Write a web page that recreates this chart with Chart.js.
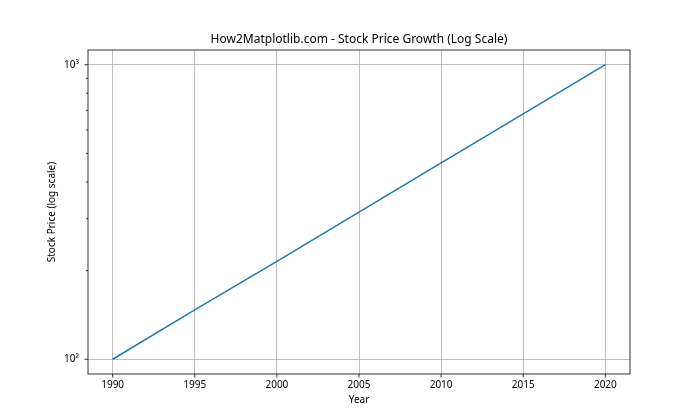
<!DOCTYPE html>
<html>
<head>
<meta charset="utf-8">
<script src="https://cdn.jsdelivr.net/npm/chart.js@4"></script>
<style>
  body { margin: 0; background: #fff; }
  #wrap { width: 700px; height: 420px; }
</style>
</head>
<body>
<div id="wrap"><canvas id="stockChart" width="700" height="420"></canvas></div>
<script>
"use strict";

// Data
const years = [1990, 1995, 2000, 2005, 2010, 2015, 2020];
const prices = [100, 147, 215, 316, 464, 681, 1000];

// Tick labels
const xTicks = [1990, 1995, 2000, 2005, 2010, 2015, 2020];
const yMajorTicks = [100, 1000];
const yMajorLabels = ['10²', '10³'];
const yMinorTicks = [200, 300, 400, 500, 600, 700, 800, 900];

const chartTitle = 'How2Matplotlib.com - Stock Price Growth (Log Scale)';
const fontFamily = '"Noto Sans", "DejaVu Sans", sans-serif';

// Plugin for the frame, tick marks and the title centred over the plot area (like matplotlib)
const framePlugin = {
    id: 'frame',
    afterDraw(chart) {
        const { ctx, chartArea: a, scales: { x, y } } = chart;
        ctx.save();
        ctx.strokeStyle = '#000';
        ctx.lineWidth = 0.8;
        ctx.strokeRect(a.left, a.top, a.right - a.left, a.bottom - a.top);
        ctx.beginPath();
        xTicks.forEach(v => {
            const px = x.getPixelForValue(v);
            ctx.moveTo(px, a.bottom);
            ctx.lineTo(px, a.bottom + 3.5);
        });
        yMajorTicks.concat(yMinorTicks).forEach(v => {
            const py = y.getPixelForValue(v);
            const len = yMajorTicks.includes(v) ? 3.5 : 2;
            ctx.moveTo(a.left, py);
            ctx.lineTo(a.left - len, py);
        });
        ctx.stroke();

        // titel
        ctx.fillStyle = '#000';
        ctx.font = '12px ' + fontFamily;
        ctx.textAlign = 'center';
        ctx.textBaseline = 'middle';
        ctx.fillText(chartTitle, (a.left + a.right) / 2, a.top - 10);
        ctx.restore();
    }
};

new Chart(document.getElementById('stockChart'), {
    type: 'line',
    data: {
        datasets: [{
            data: years.map((yr, i) => ({ x: yr, y: prices[i] })),
            borderColor: '#1f77b4',
            borderWidth: 1.5,
            pointRadius: 0,
            fill: false,
            tension: 0
        }]
    },
    options: {
        responsive: false,
        animation: false,
        layout: { padding: { top: 50, right: 70, bottom: 0, left: 0 } },
        plugins: {
            legend: { display: false },
            tooltip: { enabled: false },
            title: { display: false }
        },
        scales: {
            x: {
                type: 'linear',
                min: 1988.5,
                max: 2021.5,
                afterBuildTicks: scale => {
                    scale.ticks = xTicks.map(v => ({ value: v }));
                },
                afterFit: scale => { scale.height = 46; },
                ticks: {
                    autoSkip: false,
                    maxRotation: 0,
                    padding: 5,
                    color: '#000',
                    font: { family: fontFamily, size: 10 },
                    callback: value => String(value)
                },
                grid: { color: '#b0b0b0', lineWidth: 0.8, drawTicks: false },
                border: { display: false },
                title: {
                    display: true,
                    text: 'Year',
                    color: '#000',
                    font: { family: fontFamily, size: 10 },
                    padding: 14
                }
            },
            y: {
                type: 'logarithmic',
                min: 89.1,
                max: 1122,
                afterBuildTicks: scale => {
                    scale.ticks = yMajorTicks.concat(yMinorTicks)
                        .sort((a, b) => a - b)
                        .map(v => ({ value: v }));
                },
                afterFit: scale => { scale.width = 88; },
                ticks: {
                    autoSkip: false,
                    padding: 9,
                    color: '#000',
                    font: { family: fontFamily, size: 10 },
                    callback: value => {
                        const i = yMajorTicks.indexOf(value);
                        return i >= 0 ? yMajorLabels[i] : '';
                    }
                },
                grid: {
                    color: ctx => (ctx.tick && yMajorTicks.includes(ctx.tick.value)) ? '#b0b0b0' : 'rgba(0,0,0,0)',
                    lineWidth: 0.8,
                    drawTicks: false
                },
                border: { display: false },
                title: {
                    display: true,
                    text: 'Stock Price (log scale)',
                    color: '#000',
                    font: { family: fontFamily, size: 10 },
                    padding: 46
                }
            }
        }
    },
    plugins: [framePlugin]
});
</script>
</body>
</html>
